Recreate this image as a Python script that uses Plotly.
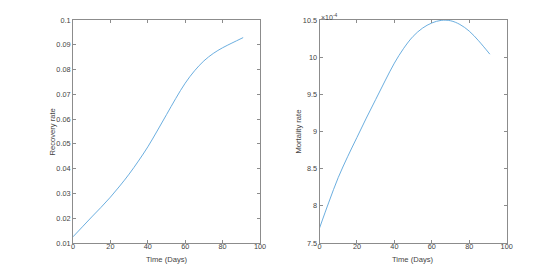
import plotly.graph_objects as go

days = [0, 5, 10, 15, 20, 25, 30, 35, 40, 45, 50, 55, 60, 65, 70, 75, 80, 85, 91]
recovery = [0.0125, 0.0165, 0.0205, 0.0244, 0.0285, 0.0330, 0.0378, 0.0431, 0.0488, 0.0552,
            0.0618, 0.0684, 0.0745, 0.0795, 0.0835, 0.0865, 0.0888, 0.0907, 0.0929]
mortality = [7.70e-4, 8.05e-4, 8.38e-4, 8.66e-4, 8.92e-4, 9.18e-4, 9.43e-4, 9.68e-4, 9.92e-4,
             10.12e-4, 10.28e-4, 10.39e-4, 10.46e-4, 10.495e-4, 10.49e-4, 10.44e-4, 10.35e-4,
             10.22e-4, 10.04e-4]

x_ticks = [0, 20, 40, 60, 80, 100]
rec_ticks = [0.01, 0.02, 0.03, 0.04, 0.05, 0.06, 0.07, 0.08, 0.09, 0.1]
rec_labels = ["0.01", "0.02", "0.03", "0.04", "0.05", "0.06", "0.07", "0.08", "0.09", "0.1"]
mort_ticks = [7.5e-4, 8e-4, 8.5e-4, 9e-4, 9.5e-4, 10e-4, 10.5e-4]
mort_labels = ["7.5", "8", "8.5", "9", "9.5", "10", "10.5"]

# page body has an 8px margin; the figure is sized to fill the rest of the window
W, H = 552, 265
OFF = 8


def px_x(v):
    return (v - OFF) / W


def px_y(v):
    return (H - (v - OFF)) / H


line_color = "#5aa5db"
axis_color = "#8c8c8c"
text_color = "#444444"
font = dict(family="Liberation Sans, Arial, sans-serif", size=7.3, color=text_color)
title_font = dict(family="Liberation Sans, Arial, sans-serif", size=7.6, color=text_color)

fig = go.Figure()
fig.add_trace(go.Scatter(x=days, y=recovery, mode="lines",
                         line=dict(color=line_color, width=0.9, shape="spline", smoothing=1.0),
                         xaxis="x", yaxis="y", showlegend=False))
fig.add_trace(go.Scatter(x=days, y=mortality, mode="lines",
                         line=dict(color=line_color, width=0.9, shape="spline", smoothing=1.0),
                         xaxis="x2", yaxis="y2", showlegend=False))

ydom = [px_y(243), px_y(20)]
common_axis = dict(showline=True, linecolor=axis_color, linewidth=1, mirror="ticks", ticks="inside",
                   ticklen=3, tickcolor=axis_color, showgrid=False, zeroline=False, tickfont=font,
                   automargin=False)

fig.update_layout(
    width=W, height=H, margin=dict(l=0, r=0, t=0, b=0),
    paper_bgcolor="white", plot_bgcolor="white", font=font,
    xaxis=dict(domain=[px_x(73), px_x(260)], range=[0, 100], tickvals=x_ticks, ticklabelstandoff=-4,
               anchor="y", **common_axis),
    yaxis=dict(domain=ydom, range=[0.01, 0.1], tickvals=rec_ticks, ticktext=rec_labels,
               anchor="x", **common_axis),
    xaxis2=dict(domain=[px_x(319.5), px_x(506.7)], range=[0, 100], tickvals=x_ticks, ticklabelstandoff=-4,
                anchor="y2", **common_axis),
    yaxis2=dict(domain=ydom, range=[7.5e-4, 10.5e-4], tickvals=mort_ticks, ticktext=mort_labels,
                anchor="x2", **common_axis),
)

# axis titles
fig.add_annotation(xref="paper", yref="paper", x=px_x(166.5), y=px_y(259), text="Time (Days)",
                   showarrow=False, font=title_font, xanchor="center", yanchor="middle")
fig.add_annotation(xref="paper", yref="paper", x=px_x(413.1), y=px_y(259), text="Time (Days)",
                   showarrow=False, font=title_font, xanchor="center", yanchor="middle")
fig.add_annotation(xref="paper", yref="paper", x=px_x(52), y=px_y(131.5), text="Recovery rate",
                   showarrow=False, font=title_font, xanchor="center", yanchor="middle", textangle=-90)
fig.add_annotation(xref="paper", yref="paper", x=px_x(298), y=px_y(131.5), text="Mortality rate",
                   showarrow=False, font=title_font, xanchor="center", yanchor="middle", textangle=-90)
# exponent label
fig.add_annotation(xref="x2 domain", yref="y2 domain", x=0, y=1, xanchor="left", yanchor="bottom",
                   text="×10<sup>-4</sup>", showarrow=False, font=dict(size=7, color=text_color),
                   yshift=-3, xshift=-1)

fig.write_html("out.html")
